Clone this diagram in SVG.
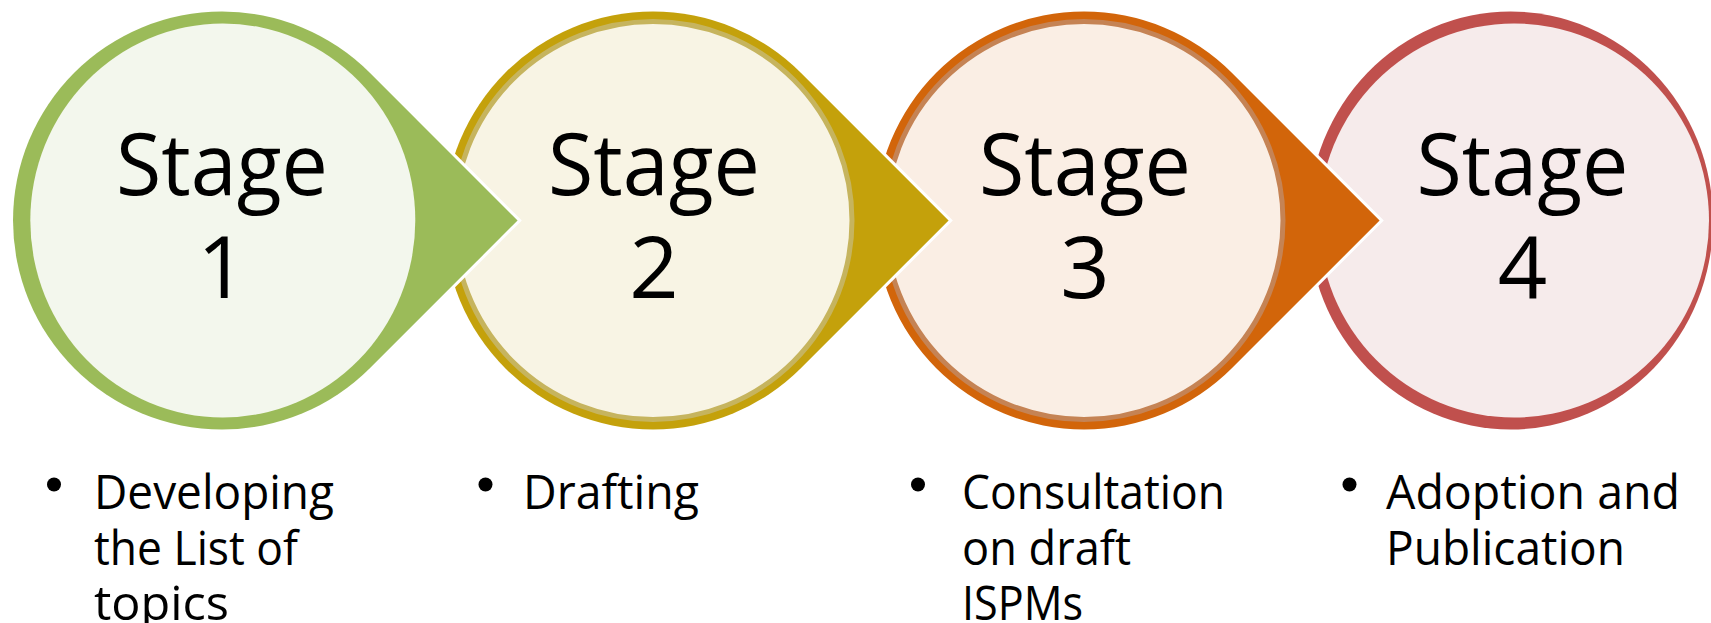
<svg xmlns="http://www.w3.org/2000/svg" width="1711" height="623" viewBox="0 0 1711 623">
<style>
.outer{stroke:#FFFFFF;stroke-width:6;paint-order:stroke;stroke-linejoin:miter}
.stage{font-family:"Open Sans","Noto Sans",sans-serif;font-size:86.5px;fill:#000;text-anchor:middle}
.item{font-family:"Open Sans","Noto Sans",sans-serif;font-size:48px;fill:#000}
.bullet{fill:#000}
</style>
<rect x="0" y="0" width="1711" height="623" fill="#FFFFFF"/>
<g id="connectors"></g>
<g id="node-4">
  <ellipse class="outer" cx="1510.6" cy="220.5" rx="202.4" ry="209" fill="#C0504D"/>
  <ellipse cx="1514" cy="220.5" rx="195" ry="197" fill="#F6EBEB"/>
  <text class="stage" x="1522.5" y="195" textLength="212" lengthAdjust="spacingAndGlyphs">Stage</text>
  <text class="stage" x="1522.5" y="298">4</text>
</g>
<g id="node-3">
  <path class="outer" fill="#D2650A" d="M1231.8,72.7 L1379.6,220.5 L1231.8,368.3 A209,209 0 1 1 1231.8,72.7 Z"/>
  <circle cx="1084" cy="220.5" r="199" fill="#FAEEE4" stroke="#C58354" stroke-width="5"/>
  <text class="stage" x="1085" y="195" textLength="212" lengthAdjust="spacingAndGlyphs">Stage</text>
  <text class="stage" x="1085" y="298">3</text>
</g>
<g id="node-2">
  <path class="outer" fill="#C4A10B" d="M800.8,72.7 L948.6,220.5 L800.8,368.3 A209,209 0 1 1 800.8,72.7 Z"/>
  <circle cx="653" cy="220.5" r="199" fill="#F8F4E4" stroke="#C6B45E" stroke-width="5"/>
  <text class="stage" x="654" y="195" textLength="212" lengthAdjust="spacingAndGlyphs">Stage</text>
  <text class="stage" x="654" y="298">2</text>
</g>
<g id="node-1">
  <path class="outer" fill="#9BBB59" d="M369.8,72.7 L517.6,220.5 L369.8,368.3 A209,209 0 1 1 369.8,72.7 Z"/>
  <ellipse cx="222.8" cy="220.5" rx="192.5" ry="197" fill="#F3F7ED"/>
  <text class="stage" x="222" y="195" textLength="212" lengthAdjust="spacingAndGlyphs">Stage</text>
  <text class="stage" x="222" y="298">1</text>
</g>
<g id="label-1">
  <circle class="bullet" cx="54" cy="484.5" r="7"/>
  <text class="item" x="94" y="509" textLength="240" lengthAdjust="spacingAndGlyphs">Developing</text>
  <text class="item" x="94" y="565" textLength="204" lengthAdjust="spacingAndGlyphs">the List of</text>
  <text class="item" x="94" y="620" textLength="135" lengthAdjust="spacingAndGlyphs">topics</text>
</g>
<g id="label-2">
  <circle class="bullet" cx="485.5" cy="484.5" r="7"/>
  <text class="item" x="523" y="509" textLength="176" lengthAdjust="spacingAndGlyphs">Drafting</text>
</g>
<g id="label-3">
  <circle class="bullet" cx="918" cy="484.5" r="7"/>
  <text class="item" x="962" y="509" textLength="263" lengthAdjust="spacingAndGlyphs">Consultation</text>
  <text class="item" x="962" y="565" textLength="169" lengthAdjust="spacingAndGlyphs">on draft</text>
  <text class="item" x="962" y="620" textLength="121" lengthAdjust="spacingAndGlyphs">ISPMs</text>
</g>
<g id="label-4">
  <circle class="bullet" cx="1349.5" cy="484.5" r="7"/>
  <text class="item" x="1386" y="509" textLength="294" lengthAdjust="spacingAndGlyphs">Adoption and</text>
  <text class="item" x="1386" y="565" textLength="239" lengthAdjust="spacingAndGlyphs">Publication</text>
</g>
</svg>
